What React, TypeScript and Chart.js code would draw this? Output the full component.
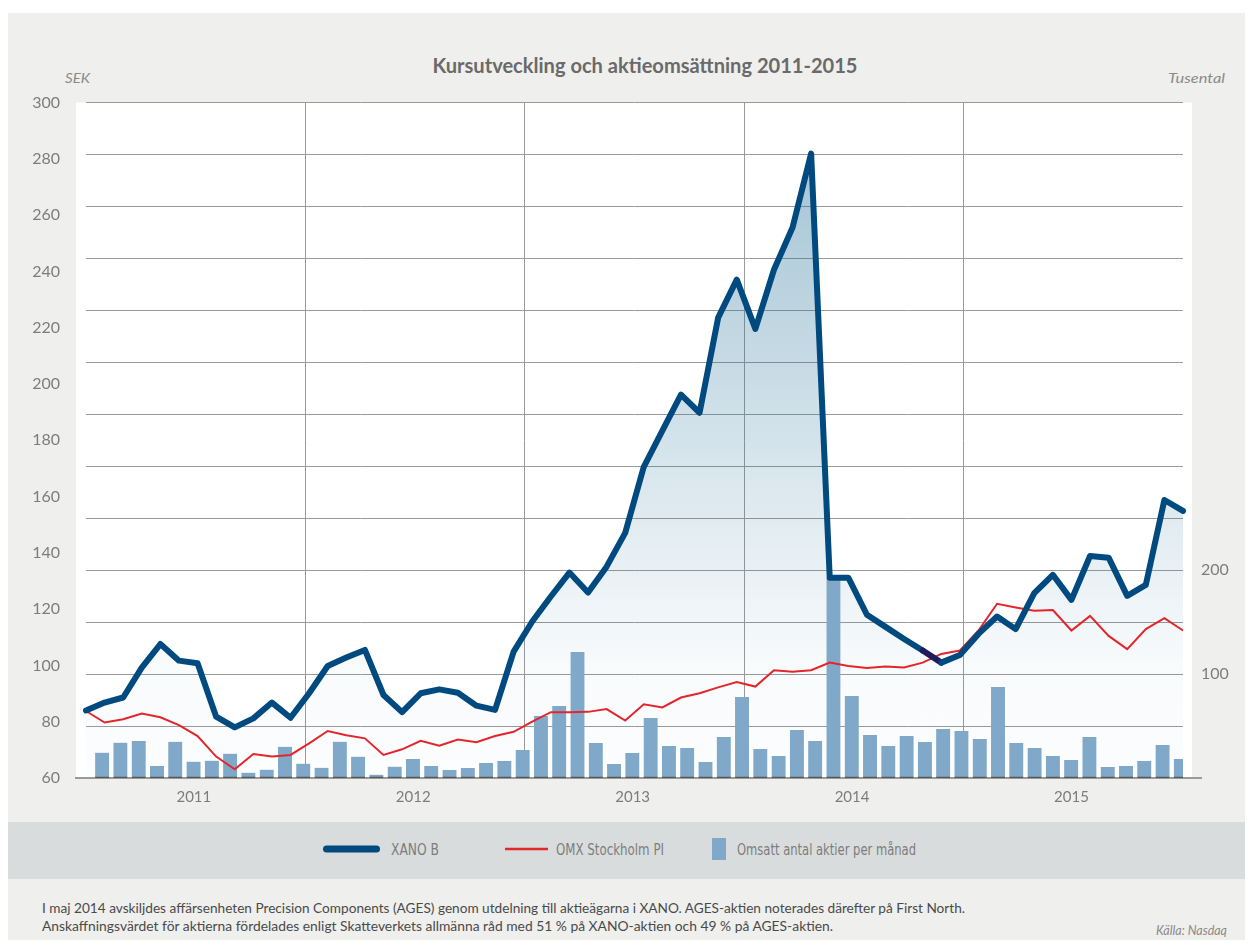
import React, { useEffect, useRef } from 'react';
import { Chart, registerables } from 'chart.js';

Chart.register(...registerables);

const years = ['2011', '2012', '2013', '2014', '2015'];
const monthNames = ['jan', 'feb', 'mar', 'apr', 'maj', 'jun', 'jul', 'aug', 'sep', 'okt', 'nov', 'dec'];
const months = years.flatMap((y) => monthNames.map((m) => `${m} ${y}`));

// XANO B share price, SEK (left axis)
const xanoB = [
  84, 86.8, 88.6, 99.2, 107.6, 101.7, 100.8, 81.8, 78.0, 81.2,
  86.8, 81.4, 90.1, 99.8, 102.8, 105.5, 89.5, 83.4, 90.1, 91.5,
  90.3, 85.7, 84.2, 104.9, 115.6, 124.5, 133, 125.9, 135.1, 147.1,
  170.6, 183.4, 196.2, 189.8, 223.6, 237.1, 219.6, 240.6, 255.6, 281.9,
  131.2, 131.2, 118, 113.7, 109.4, 105.3, 101.0, 103.7, 111.2, 117.4,
  112.9, 125.7, 132.2, 123.3, 138.9, 138.3, 124.7, 128.6, 158.8, 154.9,
];

// OMX Stockholm PI (indexed, left axis)
const omxPI = [
  83.8, 79.7, 80.9, 82.9, 81.6, 78.8, 74.9, 67.6, 63.1, 68.5,
  67.6, 68.2, 72.3, 76.7, 75.2, 74.1, 68.2, 70.2, 73.2, 71.5,
  73.7, 72.7, 74.9, 76.4, 80.0, 83.4, 83.4, 83.5, 84.5, 80.4,
  86.2, 85.1, 88.6, 90.1, 92.2, 94.1, 92.5, 98.3, 97.8, 98.3,
  101.0, 99.8, 99.1, 99.6, 99.3, 101.0, 104.1, 105.3, 112.4, 121.9,
  120.6, 119.4, 119.7, 112.4, 117.6, 110.5, 105.8, 112.9, 116.8, 112.4,
];

// Omsatt antal aktier per månad, tusental (right axis)
const volume = [
  24.4, 34.0, 35.6, 11.5, 34.9, 15.7, 16.7, 23.4, 5.1, 8.0,
  30.1, 13.8, 9.9, 34.9, 20.5, 3.2, 10.9, 18.3, 11.5, 7.7,
  9.6, 14.4, 16.3, 26.9, 59.6, 69.2, 121.2, 33.7, 13.5, 24.0,
  57.7, 30.8, 28.8, 15.4, 39.4, 77.9, 27.9, 21.2, 46.2, 35.6,
  193.3, 78.8, 41.3, 30.8, 40.4, 34.6, 47.1, 45.2, 37.5, 87.5,
  33.7, 28.8, 21.2, 17.3, 39.4, 10.6, 11.5, 16.3, 31.7, 18.3,
];

const rightTickLabels = [100, 200];

const TITLE = 'Kursutveckling och aktieomsättning 2011-2015';
const NOTE1 = 'I maj 2014 avskiljdes affärsenheten Precision Components (AGES) genom utdelning till aktieägarna i XANO. AGES-aktien noterades därefter på First North.';
const NOTE2 = 'Anskaffningsvärdet för aktierna fördelades enligt Skatteverkets allmänna råd med 51 % på XANO-aktien och 49 % på AGES-aktien.';

const TICK_COLOR = '#7d7d7d';
const GRID_COLOR = '#9a9a9a';

const plotBackground = {
  id: 'plotBackground',
  beforeDraw(chart: any) {
    const { ctx, chartArea } = chart;
    if (!chartArea) return;
    ctx.save();
    ctx.fillStyle = '#ffffff';
    ctx.fillRect(chartArea.left - 10, chartArea.top, chartArea.right - chartArea.left + 19, chartArea.bottom - chartArea.top);
    ctx.restore();
  },
  beforeDatasetsDraw(chart: any) {
    const { ctx, chartArea } = chart;
    ctx.save();
    ctx.strokeStyle = GRID_COLOR;
    ctx.lineWidth = 2;
    ctx.beginPath();
    ctx.moveTo(chartArea.left - 11, chartArea.bottom);
    ctx.lineTo(chartArea.right + 19, chartArea.bottom);
    ctx.stroke();
    ctx.restore();
  },
};

export default function App() {
  const ref = useRef<HTMLCanvasElement>(null);

  useEffect(() => {
    const canvas = ref.current;
    if (!canvas) return;
    const chart = new Chart(canvas, {
      data: {
        labels: months,
        datasets: [
          {
            type: 'line',
            label: 'XANO B',
            data: xanoB,
            xAxisID: 'xl',
            yAxisID: 'y',
            borderColor: '#004a7f',
            borderWidth: 6,
            borderJoinStyle: 'round',
            borderCapStyle: 'round',
            pointRadius: 0,
            tension: 0,
            fill: 'start',
            backgroundColor: (c: any) => {
              const { ctx, chartArea } = c.chart;
              if (!chartArea) return 'rgba(31,110,150,0.15)';
              const g = ctx.createLinearGradient(0, chartArea.top, 0, chartArea.bottom);
              g.addColorStop(0, 'rgba(31,110,150,0.44)');
              g.addColorStop(0.83, 'rgba(31,110,150,0.03)');
              g.addColorStop(1, 'rgba(31,110,150,0.01)');
              return g;
            },
            segment: {
              borderColor: (c: any) => (c.p0DataIndex === 45 ? '#1e1c5e' : undefined),
            },
            order: 1,
          } as any,
          {
            type: 'line',
            label: 'OMX Stockholm PI',
            data: omxPI,
            xAxisID: 'xl',
            yAxisID: 'y',
            borderColor: '#e4252b',
            borderWidth: 2,
            pointRadius: 0,
            tension: 0,
            fill: false,
            order: 2,
          },
          {
            type: 'bar',
            label: 'Omsatt antal aktier per månad',
            data: volume,
            xAxisID: 'x',
            yAxisID: 'y1',
            backgroundColor: '#80a9c9',
            borderColor: '#222222',
            borderWidth: { top: 0, left: 0, right: 0, bottom: 1 },
            borderSkipped: false,
            barThickness: 14,
            order: 3,
          } as any,
        ],
      },
      options: {
        responsive: false,
        animation: false,
        layout: { padding: { top: 13, left: 0, right: 0, bottom: 0 } },
        font: { family: 'Lato' },
        plugins: {
          legend: { display: false },
          tooltip: { enabled: false },
          filler: { drawTime: 'beforeDatasetsDraw' },
        },
        scales: {
          x: {
            type: 'category',
            position: 'bottom',
            offset: true,
            grid: {
              offset: true,
              drawTicks: false,
              lineWidth: 1,
              color: (c: any) => (c.index > 0 && c.index < 60 && c.index % 12 === 0 ? GRID_COLOR : 'rgba(0,0,0,0)'),
            },
            border: { display: false },
            ticks: {
              autoSkip: false,
              maxRotation: 0,
              minRotation: 0,
              padding: 10,
              labelOffset: -11,
              color: TICK_COLOR,
              font: { family: 'Lato', size: 15 },
              callback: (_v: any, i: number) => (i % 12 === 6 ? years[Math.floor(i / 12)] : ''),
            },
            afterFit: (s: any) => {
              s.height = 42;
            },
          },
          xl: {
            type: 'category',
            display: false,
            offset: false,
          },
          y: {
            position: 'left',
            min: 60,
            max: 300,
            grid: { display: false, drawTicks: false },
            border: { display: false },
            ticks: {
              stepSize: 20,
              padding: 26,
              color: TICK_COLOR,
              font: { family: 'Lato', size: 16 },
            },
            afterFit: (s: any) => {
              s.width = 78;
            },
          },
          y1: {
            position: 'right',
            min: 0,
            max: 650,
            grid: { color: GRID_COLOR, drawTicks: false, lineWidth: 1 },
            border: { display: false },
            ticks: {
              stepSize: 50,
              autoSkip: false,
              padding: 18,
              color: TICK_COLOR,
              font: { family: 'Lato', size: 16 },
              callback: (v: any) => (rightTickLabels.includes(Number(v)) ? String(v) : ''),
            },
            afterFit: (s: any) => {
              s.width = 70;
            },
          },
        },
      } as any,
      plugins: [plotBackground],
    });
    return () => chart.destroy();
  }, []);

  const narrow = "'Liberation Sans Narrow', 'DejaVu Sans Condensed', 'Roboto', sans-serif";

  return (
    <div style={{ position: 'relative', height: 932 }}>
      <div
        style={{
          position: 'absolute',
          left: 0,
          top: 5,
          width: 1245,
          height: 935,
          background: '#efefed',
          overflow: 'hidden',
        }}
      >
        <svg width={1245} height={935} style={{ position: 'absolute', left: 0, top: 0 }}>
          <text x={637} y={60} textAnchor="middle" textLength={425} lengthAdjust="spacingAndGlyphs"
            fontFamily="Lato, 'Open Sans', sans-serif" fontWeight="bold" fontSize={20} fill="#6a6a6a">
            {TITLE}
          </text>
          <text x={57} y={70} textLength={25} lengthAdjust="spacingAndGlyphs"
            fontFamily="Lato, sans-serif" fontStyle="italic" fontSize={14} fill="#8a8a8a">SEK</text>
          <text x={1160} y={70} textLength={57} lengthAdjust="spacingAndGlyphs"
            fontFamily="Lato, sans-serif" fontStyle="italic" fontSize={14} fill="#8a8a8a">Tusental</text>

          <rect x={0} y={809} width={1245} height={57} fill="#d9dcdc" />
          <line x1={318.5} y1={836} x2={368.5} y2={836} stroke="#004a7f" strokeWidth={7} strokeLinecap="round" />
          <text x={383} y={842} textLength={48} lengthAdjust="spacingAndGlyphs"
            fontFamily={narrow} fontSize={15} fill="#7d7d7d">XANO B</text>
          <line x1={497} y1={836} x2={540} y2={836} stroke="#e4252b" strokeWidth={2.5} />
          <text x={548} y={842} textLength={108} lengthAdjust="spacingAndGlyphs"
            fontFamily={narrow} fontSize={15} fill="#7d7d7d">OMX Stockholm PI</text>
          <rect x={704} y={825} width={14} height={22} fill="#80a9c9" />
          <text x={729} y={842} textLength={179} lengthAdjust="spacingAndGlyphs"
            fontFamily={narrow} fontSize={15} fill="#7d7d7d">Omsatt antal aktier per månad</text>

          <text x={34} y={900} textLength={923} lengthAdjust="spacingAndGlyphs"
            fontFamily="Lato, sans-serif" fontSize={14} fill="#4a4a4a">{NOTE1}</text>
          <text x={34} y={918} textLength={791} lengthAdjust="spacingAndGlyphs"
            fontFamily="Lato, sans-serif" fontSize={14} fill="#4a4a4a">{NOTE2}</text>
          <text x={1148} y={922} textLength={71} lengthAdjust="spacingAndGlyphs"
            fontFamily="Lato, sans-serif" fontStyle="italic" fontSize={12.5} fill="#8a8a8a">Källa: Nasdaq</text>
        </svg>
        <canvas ref={ref} width={1245} height={753} style={{ position: 'absolute', left: 0, top: 54 }} />
      </div>
    </div>
  );
}
